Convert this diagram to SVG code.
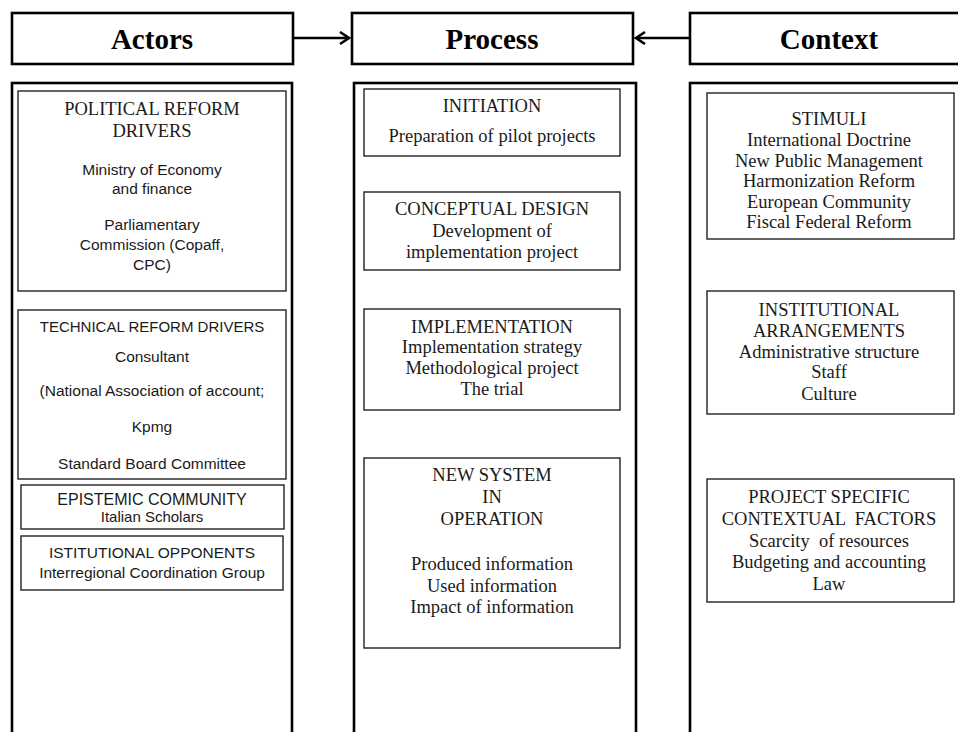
<svg xmlns="http://www.w3.org/2000/svg" width="958" height="732" viewBox="0 0 958 732">
<style>
.hdr{fill:#fff;stroke:#000;stroke-width:2.6}
.col{fill:#fff;stroke:#000;stroke-width:2.6}
.box{fill:#fff;stroke:#222;stroke-width:1.4}
.ht{font-family:"Liberation Serif","Times New Roman",serif;font-weight:bold;font-size:29px;fill:#000;text-anchor:middle}
.s{font-family:"Liberation Serif","Times New Roman",serif;font-size:18.5px;fill:#1a1a1a;text-anchor:middle}
.a{font-family:"Liberation Sans",Arial,sans-serif;font-size:15.5px;fill:#1a1a1a;text-anchor:middle}
.conn{stroke:#000;stroke-width:2.6;fill:none}
</style>
<defs>
<marker id="ah" markerUnits="userSpaceOnUse" markerWidth="14" markerHeight="16" refX="11" refY="7" orient="auto">
<path d="M2,1 L11,7 L2,13" fill="none" stroke="#000" stroke-width="2.6"/>
</marker>
</defs>
<rect width="958" height="732" fill="#fff"/>

<g id="actors-header"><rect class="hdr" x="12" y="13" width="281" height="51"/><text class="ht" x="152" y="49">Actors</text></g>
<g id="process-header"><rect class="hdr" x="352" y="13" width="281" height="51"/><text class="ht" x="492" y="49">Process</text></g>
<g id="context-header"><rect class="hdr" x="690" y="13" width="290" height="51"/><text class="ht" x="829" y="49">Context</text></g>

<g id="connectors">
<line class="conn" x1="293" y1="38" x2="349" y2="38" marker-end="url(#ah)"/>
<line class="conn" x1="690" y1="38" x2="636" y2="38" marker-end="url(#ah)"/>
</g>

<g id="actors-column"><rect class="col" x="12" y="83" width="280" height="670"/></g>
<g id="process-column"><rect class="col" x="354" y="83" width="282" height="670"/></g>
<g id="context-column"><rect class="col" x="690" y="83" width="290" height="670"/></g>

<g id="political-reform-drivers">
<rect class="box" x="18" y="91" width="268" height="200"/>
<text class="s" x="152" y="115">POLITICAL REFORM</text>
<text class="s" x="152" y="137">DRIVERS</text>
<text class="a" x="152" y="175">Ministry of Economy</text>
<text class="a" x="152" y="194">and finance</text>
<text class="a" x="152" y="230">Parliamentary</text>
<text class="a" x="152" y="250">Commission (Copaff,</text>
<text class="a" x="152" y="270">CPC)</text>
</g>

<g id="technical-reform-drivers">
<rect class="box" x="18" y="310" width="268" height="169"/>
<text class="a" x="152" y="332" style="font-size:15px">TECHNICAL REFORM DRIVERS</text>
<text class="a" x="152" y="362">Consultant</text>
<text class="a" x="152" y="396">(National Association of account;</text>
<text class="a" x="152" y="432">Kpmg</text>
<text class="a" x="152" y="469">Standard Board Committee</text>
</g>

<g id="epistemic-community">
<rect class="box" x="21" y="485" width="263" height="44"/>
<text class="a" x="152" y="505" style="font-size:16px">EPISTEMIC COMMUNITY</text>
<text class="a" x="152" y="522" style="font-size:15px">Italian Scholars</text>
</g>

<g id="istitutional-opponents">
<rect class="box" x="21" y="536" width="262" height="54"/>
<text class="a" x="152" y="558">ISTITUTIONAL OPPONENTS</text>
<text class="a" x="152" y="578">Interregional Coordination Group</text>
</g>

<g id="initiation">
<rect class="box" x="364" y="89" width="256" height="67"/>
<text class="s" x="492" y="112">INITIATION</text>
<text class="s" x="492" y="142">Preparation of pilot projects</text>
</g>

<g id="conceptual-design">
<rect class="box" x="364" y="192" width="256" height="78"/>
<text class="s" x="492" y="215">CONCEPTUAL DESIGN</text>
<text class="s" x="492" y="237">Development of</text>
<text class="s" x="492" y="258">implementation project</text>
</g>

<g id="implementation">
<rect class="box" x="364" y="309" width="256" height="101"/>
<text class="s" x="492" y="333">IMPLEMENTATION</text>
<text class="s" x="492" y="353">Implementation strategy</text>
<text class="s" x="492" y="374">Methodological project</text>
<text class="s" x="492" y="395">The trial</text>
</g>

<g id="new-system-in-operation">
<rect class="box" x="364" y="458" width="256" height="190"/>
<text class="s" x="492" y="481">NEW SYSTEM</text>
<text class="s" x="492" y="503">IN</text>
<text class="s" x="492" y="525">OPERATION</text>
<text class="s" x="492" y="570">Produced information</text>
<text class="s" x="492" y="592">Used information</text>
<text class="s" x="492" y="613">Impact of information</text>
</g>

<g id="stimuli">
<rect class="box" x="707" y="93" width="247" height="146"/>
<text class="s" x="829" y="125">STIMULI</text>
<text class="s" x="829" y="146">International Doctrine</text>
<text class="s" x="829" y="167">New Public Management</text>
<text class="s" x="829" y="187">Harmonization Reform</text>
<text class="s" x="829" y="208">European Community</text>
<text class="s" x="829" y="228">Fiscal Federal Reform</text>
</g>

<g id="institutional-arrangements">
<rect class="box" x="707" y="291" width="247" height="123"/>
<text class="s" x="829" y="316">INSTITUTIONAL</text>
<text class="s" x="829" y="337">ARRANGEMENTS</text>
<text class="s" x="829" y="358">Administrative structure</text>
<text class="s" x="829" y="378">Staff</text>
<text class="s" x="829" y="400">Culture</text>
</g>

<g id="project-specific-contextual-factors">
<rect class="box" x="707" y="479" width="247" height="123"/>
<text class="s" x="829" y="503">PROJECT SPECIFIC</text>
<text class="s" x="829" y="525" xml:space="preserve">CONTEXTUAL  FACTORS</text>
<text class="s" x="829" y="547" xml:space="preserve">Scarcity  of resources</text>
<text class="s" x="829" y="568">Budgeting and accounting</text>
<text class="s" x="829" y="590">Law</text>
</g>
</svg>
